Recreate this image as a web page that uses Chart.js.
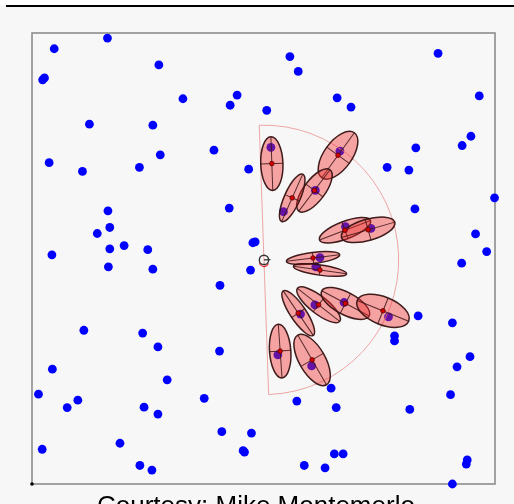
<!DOCTYPE html>
<html>
<head>
<meta charset="utf-8">
<script src="https://cdn.jsdelivr.net/npm/chart.js@4.4.1/dist/chart.umd.min.js"></script>
<style>
html,body{margin:0;padding:0;background:#f7f7f7;overflow:hidden;width:514px;height:504px;}
#wrap{position:relative;width:514px;height:504px;}
canvas{position:absolute;left:0;top:0;}
#topband{position:absolute;left:0;top:0;width:514px;height:5px;background:#fff;}
#topline{position:absolute;left:6px;top:5px;width:508px;height:2px;background:#000;}
#caption{position:absolute;left:97px;top:492px;font-family:"Liberation Sans",Arial,sans-serif;font-size:26px;line-height:26px;color:#000;white-space:nowrap;}
</style>
</head>
<body>
<div id="wrap">
<canvas id="mapChart" width="514" height="504"></canvas>
<div id="topband"></div>
<div id="topline"></div>
<div id="caption">Courtesy: Mike Montemerlo</div>
</div>
<script>

/* =====================
   Data (map units)
===================== */

// true landmark positions
const landmarkX=[4.8,16.3,27.4,2.3,2.7,32.6,44.3,42.8,50.7,12.4,26.1,39.3,27.7,3.7,10.9,23.2,46.8,16.4,42.6,16.8,14.1,19.9,16.8,25.0,4.3,47.7,48.2,
55.7,57.5,87.7,65.9,68.9,96.6,94.8,92.9,82.9,76.7,81.4,82.7,99.9,95.8,98.2,
16.5,26.1,47.2,40.6,11.2,23.9,27.2,40.5,4.4,29.2,1.4,9.9,7.6,24.2,27.2,37.2,41.0,47.4,45.6,45.9,2.2,19.0,23.3,25.9,
92.8,83.4,90.8,78.3,78.3,94.6,91.8,64.6,57.2,65.7,81.6,90.4,65.3,67.2,58.8,63.3,94.0,93.8,90.8,
51.6,66.5,61.2,54.3,67.7,73.2,62.2,61.3,58.0,61.1,67.4,77.0,53.1,60.4];

const landmarkY=[94.0,96.3,90.5,87.3,87.7,83.2,84.0,81.8,80.7,77.7,77.5,72.1,71.1,69.4,67.5,68.4,68.0,59.0,59.6,55.4,54.1,51.5,50.8,50.6,49.5,52.1,52.3,
92.3,89.1,93.0,83.4,81.4,83.8,75.1,73.1,72.6,68.4,67.8,59.4,61.8,54.0,50.2,
46.9,46.4,46.2,42.9,33.2,32.6,29.6,28.7,24.8,22.5,19.4,18.1,16.5,16.6,15.1,18.5,11.3,11.0,7.2,6.9,7.5,8.8,4.0,3.0,
47.7,36.3,34.8,32.0,30.9,27.5,25.3,20.7,17.9,16.5,16.1,19.3,6.5,6.5,4.0,3.5,5.2,4.3,0.0,
72.7,71.9,63.4,58.8,55.6,55.2,48.9,46.9,36.7,38.7,39.2,36.1,27.9,25.5];

// estimated landmarks: mean, semi axes, orientation (deg)
const estX=[51.8,66.1,61.0,56.2,67.6,72.6,60.7,62.2,57.5,61.9,67.7,75.8,53.6,60.5];
const estY=[69.2,71.0,63.4,61.8,54.8,54.9,48.8,46.2,36.9,38.7,39.0,37.4,28.7,26.8];
const estMajor=[5.8,6.0,5.6,5.6,5.9,6.0,5.8,5.8,5.8,5.8,5.8,6.0,5.8,6.2];
const estMinor=[2.4,3.0,2.3,1.7,1.9,2.3,1.2,1.1,1.7,1.9,2.4,3.0,2.3,2.8];
const estAngle=[92,54,53,66,21,16,7,-8,-56,-38,-28,-22,-86,-60];

// robot pose and sensor range
const robotX=50.1;
const robotY=48.4;
const robotHeading=2;
const sensorRange=29.1;
const robotSize=1.0;



/* =====================
   Drawing plugin
===================== */

const mapPlugin={

id:"mapPlugin",

beforeDatasetsDraw(chart){

const ctx=chart.ctx;
const a=chart.chartArea;

ctx.save();
ctx.strokeStyle="#8c8c8c";
ctx.lineWidth=1.6;
ctx.strokeRect(a.left,a.top,a.right-a.left,a.bottom-a.top);

ctx.fillStyle="#000";
ctx.beginPath();
ctx.arc(a.left,a.bottom,1.8,0,2*Math.PI);
ctx.fill();
ctx.restore();

},

afterDatasetsDraw(chart){

const ctx=chart.ctx;
const x=chart.scales.x;
const y=chart.scales.y;
const k=x.getPixelForValue(1)-x.getPixelForValue(0);

const rx=x.getPixelForValue(robotX);
const ry=y.getPixelForValue(robotY);
const h=-robotHeading*Math.PI/180;

// sensor range half circle
ctx.save();
ctx.strokeStyle="rgba(236,150,150,0.85)";
ctx.lineWidth=1;
ctx.beginPath();
ctx.arc(rx,ry,sensorRange*k,h-Math.PI/2,h+Math.PI/2);
ctx.closePath();
ctx.stroke();
ctx.restore();

// covariance ellipses
for(let i=0;i<estX.length;i++){

const cx=x.getPixelForValue(estX[i]);
const cy=y.getPixelForValue(estY[i]);
const ra=estMajor[i]*k;
const rb=estMinor[i]*k;

ctx.save();
ctx.translate(cx,cy);
ctx.rotate(-estAngle[i]*Math.PI/180);

ctx.beginPath();
ctx.ellipse(0,0,ra,rb,0,0,2*Math.PI);
ctx.fillStyle="rgba(240,45,45,0.42)";
ctx.fill();
ctx.strokeStyle="rgba(55,18,18,0.95)";
ctx.lineWidth=1.5;
ctx.stroke();

ctx.beginPath();
ctx.moveTo(-ra,0);
ctx.lineTo(ra,0);
ctx.moveTo(0,-rb);
ctx.lineTo(0,rb);
ctx.lineWidth=1;
ctx.strokeStyle="rgba(60,20,20,0.85)";
ctx.stroke();

ctx.restore();

}

// estimate means
ctx.save();
for(let i=0;i<estX.length;i++){

ctx.beginPath();
ctx.arc(x.getPixelForValue(estX[i]),y.getPixelForValue(estY[i]),2.3,0,2*Math.PI);
ctx.fillStyle="#d40000";
ctx.fill();
ctx.strokeStyle="#5a0000";
ctx.lineWidth=0.8;
ctx.stroke();

}
ctx.restore();

// robot
const rr=robotSize*k;

ctx.save();
ctx.strokeStyle="#e02020";
ctx.lineWidth=1.2;
ctx.beginPath();
ctx.arc(rx,ry+2,rr,0.1*Math.PI,0.95*Math.PI);
ctx.stroke();

ctx.strokeStyle="#333";
ctx.lineWidth=1.4;
ctx.beginPath();
ctx.arc(rx,ry,rr,0,2*Math.PI);
ctx.stroke();

ctx.beginPath();
ctx.moveTo(rx,ry);
ctx.lineTo(rx+rr*1.4*Math.cos(h),ry+rr*1.4*Math.sin(h));
ctx.stroke();
ctx.restore();

}

};



/* =====================
   Chart
===================== */

const ctx=document.getElementById("mapChart").getContext("2d");

let mapChart=new Chart(ctx,{

type:"scatter",

data:{

datasets:[

{
label:"Landmarks",
data:landmarkX.map((v,i)=>({x:v,y:landmarkY[i]})),
backgroundColor:"#0000ff",
borderWidth:0,
pointRadius:4.4,
pointHoverRadius:4.4,
clip:false
}

]

},

options:{
responsive:false,
animation:false,
events:[],
layout:{padding:{left:32,right:19,top:33,bottom:20}},
scales:{
x:{type:"linear",min:0,max:100,display:false},
y:{type:"linear",min:0,max:97.4,display:false}
},
plugins:{
legend:{display:false},
tooltip:{enabled:false}
}
},

plugins:[mapPlugin]

});

</script>
</body>
</html>
